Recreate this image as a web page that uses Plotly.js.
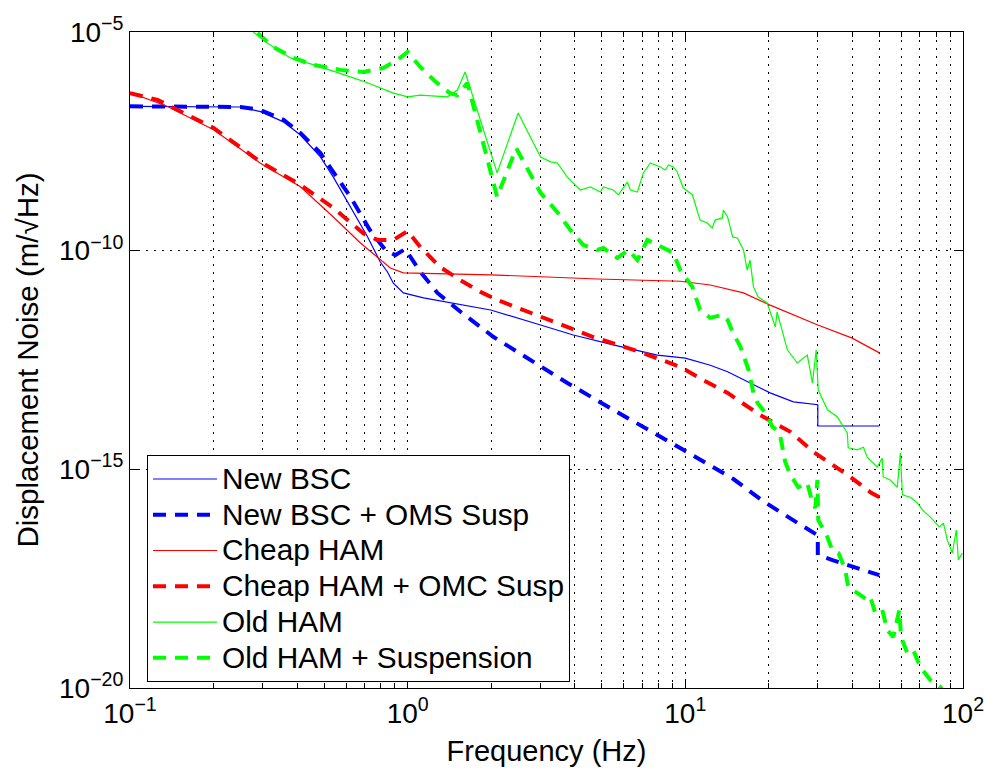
<!DOCTYPE html>
<html>
<head>
<meta charset="utf-8">
<script src="https://cdn.plot.ly/plotly-3.0.1.min.js"></script>
<style>html,body{margin:0;padding:0;background:#fff;}#chart{width:985px;height:768px;}</style>
</head>
<body>
<div id="chart"></div>
<script>
// ---- Data ----
const seriesNames = ["New BSC", "New BSC + OMS Susp", "Cheap HAM", "Cheap HAM + OMC Susp", "Old HAM", "Old HAM + Suspension"];

const newBscF = [0.1, 0.25, 0.295, 0.357, 0.411, 0.485, 0.540, 0.622, 0.716, 0.797, 0.845, 0.888, 0.965, 1.14, 1.59, 1.99, 3.01, 3.95, 5.50, 7.93, 10, 12.3, 14.2, 17.1, 20.2, 24.5, 30, 30, 50];
const newBscV = [2.0e-7, 1.93e-7, 1.51e-7, 8.8e-8, 4.4e-8, 1.4e-8, 4.8e-9, 1.0e-9, 2.1e-10, 5.5e-11, 3.3e-11, 1.8e-11, 1.08e-11, 8.3e-12, 5.7e-12, 4.4e-12, 2.0e-12, 1.18e-12, 7.0e-13, 4.1e-13, 3.5e-13, 2.4e-13, 1.7e-13, 9.4e-14, 5.6e-14, 3.5e-14, 3.0e-14, 9.8e-15, 9.8e-15];

const newBscSuspF = [0.1, 0.25, 0.295, 0.357, 0.411, 0.485, 0.622, 0.730, 0.831, 0.902, 0.98, 1.11, 1.28, 1.55, 2.04, 2.77, 3.76, 5.50, 6.89, 9.83, 14.9, 19.0, 25.3, 29.4, 30, 30, 34.1, 50];
const newBscSuspV = [2.0e-7, 1.93e-7, 1.65e-7, 9.8e-8, 4.9e-8, 1.7e-8, 1.7e-9, 3.0e-10, 1.04e-10, 7.9e-11, 1.09e-10, 3.3e-11, 1.08e-11, 4.0e-12, 1.06e-12, 3.2e-13, 9.4e-14, 2.3e-14, 1.03e-14, 2.8e-15, 6.0e-16, 1.9e-16, 6.0e-17, 3.3e-17, 3.1e-17, 1.1e-17, 8.3e-18, 3.8e-18];

const cheapHamF = [0.1, 0.136, 0.2, 0.295, 0.411, 0.540, 0.676, 0.797, 0.866, 0.965, 1.99, 3.18, 4.82, 9.59, 12.3, 16.2, 20.2, 30, 39.9, 50];
const cheapHamV = [4.1e-7, 2.0e-7, 5.8e-8, 1.0e-8, 2.9e-9, 5.9e-10, 1.5e-10, 6.1e-11, 4.0e-11, 3.1e-11, 2.8e-11, 2.5e-11, 2.25e-11, 2.0e-11, 1.64e-11, 1.08e-11, 5.7e-12, 2.0e-12, 1.0e-12, 4.6e-13];

const cheapHamSuspF = [0.1, 0.1256, 0.2, 0.295, 0.411, 0.540, 0.692, 0.778, 0.888, 1.0, 1.11, 1.31, 1.55, 1.83, 2.10, 2.61, 3.27, 4.66, 6.89, 9.59, 11.6, 14.2, 15.8, 18.6, 23.9, 28.9, 35.3, 39.3, 46.7, 50];
const cheapHamSuspV = [4.0e-7, 2.8e-7, 6.4e-8, 1.07e-8, 3.2e-9, 9.5e-10, 2.5e-10, 1.76e-10, 1.76e-10, 2.8e-10, 1.22e-10, 4.2e-11, 2.1e-11, 1.14e-11, 7.5e-12, 4.4e-12, 2.6e-12, 1.06e-12, 4.8e-13, 2.2e-13, 1.1e-13, 5.6e-14, 3.5e-14, 1.75e-14, 7.2e-15, 2.5e-15, 1.07e-15, 6.7e-16, 2.9e-16, 2.3e-16];

const oldHamF = [0.278, 0.312, 0.378, 0.473, 0.622, 0.716, 0.888, 1.0, 1.11, 1.39, 1.51, 1.61, 2.10, 2.50, 3.01, 3.27, 3.46, 3.76, 3.95, 4.19, 4.55, 4.94, 5.07, 5.50, 5.74, 6.18, 6.34, 6.72, 7.06, 7.48, 8.13, 8.47, 8.69, 9.05, 9.35, 9.83, 10.6, 11.3, 12.0, 12.5, 12.8, 13.6, 13.7, 14.2, 14.8, 15.4, 16.2, 16.7, 17.1, 17.6, 18.3, 19.7, 21.1, 21.4, 23.3, 25.3, 27.5, 28.7, 29.6, 30.1, 32.5, 35.3, 37.1, 38.3, 38.6, 41.6, 43.8, 45.2, 49.1, 51.2, 51.6, 54.7, 58.0, 59.5, 60.5, 64.6, 68.5, 71.4, 76.3, 82.2, 85.0, 87.8, 91.5, 94.6, 96.2, 99.4];
const oldHamV = [1.0e-5, 5.6e-6, 2.55e-6, 1.68e-6, 9.4e-7, 6.9e-7, 4.0e-7, 3.3e-7, 3.6e-7, 3.3e-7, 4.7e-7, 1.22e-6, 6.0e-9, 1.41e-7, 1.39e-8, 1.07e-8, 1.01e-8, 4.8e-9, 3.5e-9, 2.44e-9, 2.86e-9, 2.2e-9, 2.86e-9, 2.44e-9, 1.88e-9, 3.7e-9, 2.44e-9, 2.2e-9, 6.0e-9, 1.01e-8, 8.2e-9, 7.0e-9, 9.1e-9, 8.2e-9, 6.3e-9, 2.7e-9, 1.9e-9, 5.0e-10, 4.3e-10, 3.3e-10, 5.0e-10, 5.6e-10, 8.5e-10, 5.9e-10, 2.06e-10, 1.95e-10, 1.04e-10, 3.6e-11, 6.1e-11, 1.48e-11, 8.7e-12, 6.4e-12, 1.8e-12, 4.0e-12, 5.4e-13, 2.7e-13, 4.1e-13, 9.4e-14, 5.4e-13, 6.5e-14, 2.3e-14, 1.57e-14, 9.3e-15, 6.8e-15, 3.1e-15, 2.8e-15, 3.2e-15, 1.9e-15, 1.13e-15, 1.8e-15, 6.7e-16, 5.7e-16, 3.9e-16, 2.4e-15, 2.6e-16, 2.3e-16, 1.7e-16, 1.18e-16, 8.1e-17, 4.8e-17, 5.9e-17, 2.4e-17, 1.22e-17, 4.1e-17, 8.5e-18, 1.22e-17];

const oldHamSuspF = [0.288, 0.328, 0.388, 0.457, 0.573, 0.692, 0.818, 0.918, 1.0, 1.11, 1.24, 1.42, 1.51, 1.59, 1.64, 1.83, 2.10, 2.46, 3.01, 3.46, 3.85, 4.29, 4.82, 5.07, 5.69, 6.23, 6.72, 7.30, 8.26, 9.05, 9.59, 10.6, 11.3, 12.3, 13.6, 14.2, 14.8, 15.8, 16.9, 17.6, 18.2, 19.7, 20.6, 21.4, 22.0, 22.9, 23.9, 25.5, 27.5, 28.7, 29.4, 29.9, 30.1, 32.5, 33.8, 35.6, 37.7, 38.6, 41.6, 45.2, 46.4, 48.3, 51.2, 53.4, 56.1, 59.0, 59.8, 63.0, 66.2, 70.2, 76.3, 82.9, 87.1];
const oldHamSuspV = [9.5e-6, 4.55e-6, 2.55e-6, 1.77e-6, 1.36e-6, 1.22e-6, 1.51e-6, 2.3e-6, 3.5e-6, 1.59e-6, 8.0e-7, 4.0e-7, 3.6e-7, 5.5e-7, 6.8e-7, 4.9e-8, 1.69e-9, 2.2e-8, 2.1e-9, 7.6e-10, 3.0e-10, 1.35e-10, 1.04e-10, 1.15e-10, 6.8e-11, 1.04e-10, 6.1e-11, 1.76e-10, 1.15e-10, 8.9e-11, 3.6e-11, 1.48e-11, 4.4e-12, 2.9e-12, 3.4e-12, 2.6e-12, 1.38e-12, 6.3e-13, 1.87e-13, 5.5e-14, 3.3e-14, 1.73e-14, 9.3e-15, 7.9e-15, 5.5e-15, 1.47e-15, 7.4e-16, 3.9e-16, 4.9e-16, 1.7e-16, 1.31e-16, 5.7e-16, 7.0e-17, 2.8e-17, 1.43e-17, 1.22e-17, 5.0e-18, 2.0e-18, 1.49e-18, 1.03e-18, 1.2e-18, 5.2e-19, 6.1e-19, 2.1e-19, 1.47e-19, 6.1e-19, 1.47e-19, 6.3e-20, 7.4e-20, 3.0e-20, 1.52e-20, 1.05e-20, 6.9e-21];

// ---- Tick labels ----
const xTickVals = [0.1, 1, 10, 100];
const xTickText = ["10<sup>\u22121</sup>", "10<sup>0</sup>", "10<sup>1</sup>", "10<sup>2</sup>"];
const yTickVals = [1e-20, 1e-15, 1e-10, 1e-5];
const yTickText = ["10<sup>\u221220</sup>", "10<sup>\u221215</sup>", "10<sup>\u221210</sup>", "10<sup>\u22125</sup>"];
const xMinorVals = [];
[0.1, 1, 10].forEach(function (d) { for (let k = 2; k <= 9; k++) xMinorVals.push(d * k); });

// ---- Traces ----
const dashPattern = "13px,9px";
function legendLabel(name) { return '<span style="font-size:29.8px">' + name + '</span>'; }
function mk(x, y, name, color, width, dash) {
  return { type: "scatter", mode: "lines", x: x, y: y, name: legendLabel(name),
           line: { color: color, width: width, dash: dash }, hoverinfo: "skip" };
}
const data = [
  mk(newBscF, newBscV, seriesNames[0], "#0000FF", 1.2, "solid"),
  mk(newBscSuspF, newBscSuspV, seriesNames[1], "#0000FF", 4, dashPattern),
  mk(cheapHamF, cheapHamV, seriesNames[2], "#FF0000", 1.2, "solid"),
  mk(cheapHamSuspF, cheapHamSuspV, seriesNames[3], "#FF0000", 4, dashPattern),
  mk(oldHamF, oldHamV, seriesNames[4], "#00FF00", 1.2, "solid"),
  mk(oldHamSuspF, oldHamSuspV, seriesNames[5], "#00FF00", 4, dashPattern)
];

const gridDash = "2px,6px";
const layout = {
  width: 985, height: 768,
  margin: { l: 130, r: 22, t: 32, b: 80, pad: 0 },
  paper_bgcolor: "#ffffff", plot_bgcolor: "#ffffff",
  font: { family: "Liberation Sans, Arial, sans-serif", size: 28, color: "#000000" },
  showlegend: true,
  legend: { x: 0.0204, y: 0.355, xanchor: "left", yanchor: "top",
            bgcolor: "#ffffff", bordercolor: "#000000", borderwidth: 1,
            font: { size: 25.2, color: "#000000" }, itemwidth: 64, traceorder: "normal" },
  xaxis: {
    type: "log", range: [-1, 2], autorange: false,
    showline: true, linecolor: "#000000", linewidth: 1, mirror: "ticks",
    ticks: "inside", ticklen: 9, tickcolor: "#000000", tickwidth: 1,
    tickmode: "array", tickvals: xTickVals, ticktext: xTickText,
    showgrid: true, gridcolor: "#000000", gridwidth: 1, griddash: gridDash,
    zeroline: false,
    minor: { tickmode: "array", tickvals: xMinorVals, ticks: "inside", ticklen: 5, tickcolor: "#000000",
             showgrid: true, gridcolor: "#000000", gridwidth: 1, griddash: gridDash },
    title: { text: "Frequency (Hz)", font: { size: 29 }, standoff: 13 }
  },
  yaxis: {
    type: "log", range: [-20, -5], autorange: false,
    showline: true, linecolor: "#000000", linewidth: 1, mirror: "ticks",
    ticks: "inside", ticklen: 9, tickcolor: "#000000", tickwidth: 1,
    tickmode: "array", tickvals: yTickVals, ticktext: yTickText,
    showgrid: true, gridcolor: "#000000", gridwidth: 1, griddash: gridDash,
    zeroline: false,
    title: { text: "Displacement Noise (m/\u221AHz)", font: { size: 29.5 }, standoff: 11 }
  }
};

Plotly.newPlot("chart", data, layout, { staticPlot: true, displayModeBar: false });
</script>
</body>
</html>
